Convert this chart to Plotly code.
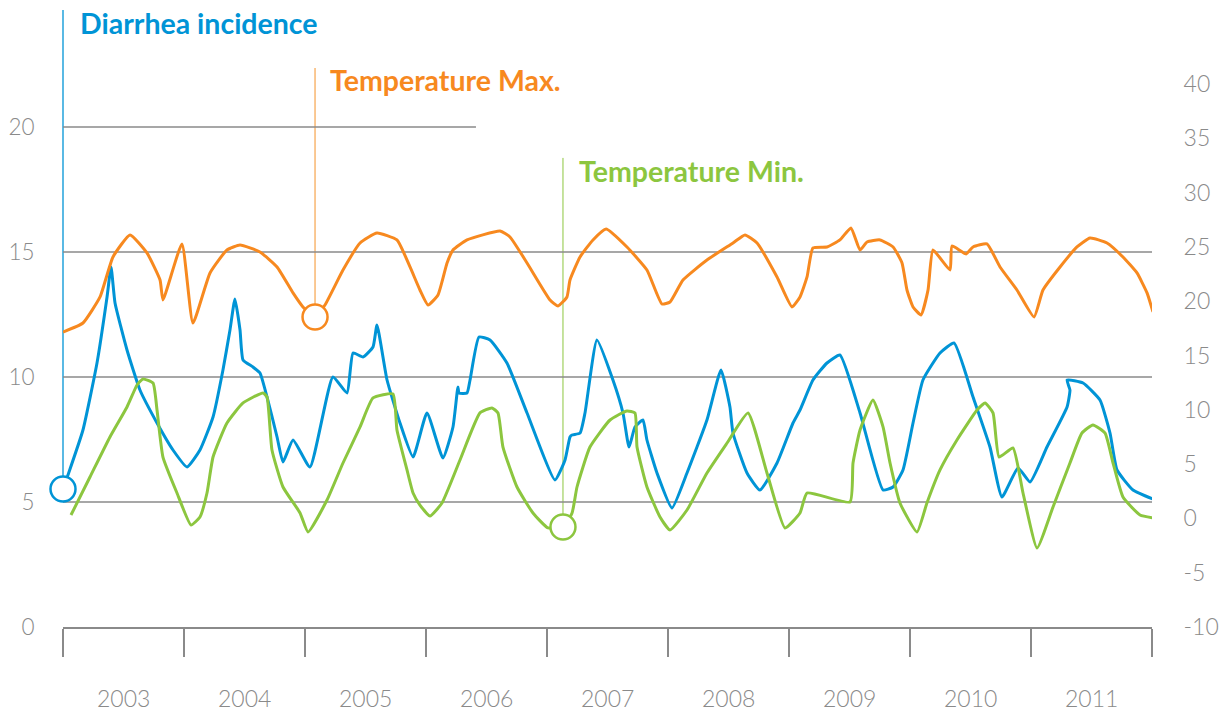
import plotly.graph_objects as go

# ---------------- data ----------------
diarrhea_x = [2003.000, 2003.041, 2003.165, 2003.281, 2003.364, 2003.397, 2003.430, 2003.529, 2003.636,
              2003.777, 2003.909, 2004.025, 2004.132, 2004.240, 2004.322, 2004.380, 2004.421, 2004.463,
              2004.488, 2004.570, 2004.628, 2004.686, 2004.769, 2004.818, 2004.901, 2005.041, 2005.231,
              2005.347, 2005.397, 2005.479, 2005.562, 2005.595, 2005.678, 2005.785, 2005.893, 2006.008,
              2006.140, 2006.223, 2006.264, 2006.273, 2006.339, 2006.364, 2006.438, 2006.529, 2006.669,
              2006.835, 2007.066, 2007.149, 2007.190, 2007.207, 2007.273, 2007.314, 2007.413, 2007.545,
              2007.628, 2007.678, 2007.727, 2007.793, 2007.826, 2007.909, 2008.033, 2008.157, 2008.322,
              2008.438, 2008.512, 2008.537, 2008.653, 2008.760, 2008.901, 2009.033, 2009.091, 2009.198,
              2009.314, 2009.421, 2009.587, 2009.777, 2009.860, 2009.942, 2010.025, 2010.107, 2010.248,
              2010.364, 2010.521, 2010.661, 2010.760, 2010.893, 2010.992, 2011.132, 2011.298, 2011.322,
              2011.298, 2011.430, 2011.570, 2011.653, 2011.711, 2011.843, 2012.008]
diarrhea_y = [5.52, 6.08, 7.88, 10.56, 13.2, 14.4, 12.96, 11.08, 9.48,
              8.16, 7.08, 6.4, 7.08, 8.4, 10.28, 11.88, 13.12, 11.88,
              10.68, 10.4, 10.16, 9.2, 7.6, 6.6, 7.48, 6.4, 10.0,
              9.36, 10.96, 10.8, 11.2, 12.08, 9.88, 8.16, 6.8, 8.56,
              6.76, 8.0, 9.6, 9.36, 9.36, 9.88, 11.6, 11.48, 10.56,
              8.56, 5.88, 6.68, 7.6, 7.68, 7.76, 8.56, 11.48, 9.88,
              8.56, 7.2, 8.0, 8.28, 7.48, 6.16, 4.76, 6.16, 8.28,
              10.28, 8.8, 7.76, 6.16, 5.48, 6.56, 8.16, 8.68, 9.88,
              10.56, 10.88, 8.56, 5.48, 5.6, 6.28, 8.16, 9.88, 10.96,
              11.36, 9.2, 7.2, 5.2, 6.36, 5.8, 7.2, 8.8, 9.48,
              9.88, 9.76, 9.08, 7.76, 6.28, 5.48, 5.12]

tmax_x = [2003.000, 2003.165, 2003.306, 2003.413, 2003.554, 2003.694, 2003.802, 2003.826, 2003.983,
          2004.074, 2004.215, 2004.355, 2004.463, 2004.628, 2004.769, 2004.901, 2004.983, 2005.083,
          2005.165, 2005.314, 2005.455, 2005.595, 2005.760, 2005.868, 2005.950, 2006.017, 2006.099,
          2006.174, 2006.223, 2006.339, 2006.612, 2006.694, 2006.835, 2007.025, 2007.091, 2007.165,
          2007.190, 2007.273, 2007.380, 2007.488, 2007.661, 2007.826, 2007.950, 2008.017, 2008.124,
          2008.322, 2008.537, 2008.636, 2008.736, 2008.901, 2009.025, 2009.091, 2009.149, 2009.198,
          2009.314, 2009.421, 2009.512, 2009.587, 2009.645, 2009.752, 2009.860, 2009.934, 2009.975,
          2010.025, 2010.091, 2010.149, 2010.190, 2010.331, 2010.347, 2010.463, 2010.521, 2010.636,
          2010.744, 2010.884, 2011.025, 2011.099, 2011.240, 2011.380, 2011.488, 2011.628, 2011.760,
          2011.876, 2011.959, 2012.008]
tmax_y = [17.16, 17.99, 20.39, 24.07, 26.10, 24.44, 21.95, 20.11, 25.27,
          17.99, 22.60, 24.71, 25.17, 24.53, 23.15, 20.76, 19.47, 18.55,
          19.65, 22.87, 25.36, 26.28, 25.64, 23.15, 21.03, 19.65, 20.57,
          23.52, 24.71, 25.64, 26.46, 25.91, 23.52, 20.11, 19.56, 20.39,
          21.95, 24.07, 25.64, 26.65, 24.99, 22.87, 19.74, 19.93, 21.95,
          23.79, 25.36, 26.10, 25.36, 22.23, 19.47, 20.39, 22.23, 24.90,
          24.99, 25.64, 26.74, 24.71, 25.45, 25.64, 24.99, 23.52, 21.03,
          19.47, 18.73, 21.03, 24.71, 22.87, 25.08, 24.35, 24.99, 25.27,
          23.15, 21.03, 18.55, 21.03, 23.15, 24.99, 25.82, 25.36, 24.07,
          22.60, 20.76, 19.01]

tmin_x = [2003.066, 2003.223, 2003.388, 2003.529, 2003.612, 2003.661, 2003.744, 2003.777, 2003.826,
          2003.942, 2004.058, 2004.132, 2004.190, 2004.240, 2004.355, 2004.488, 2004.653, 2004.686,
          2004.727, 2004.818, 2004.959, 2005.025, 2005.182, 2005.314, 2005.455, 2005.562, 2005.727,
          2005.760, 2005.843, 2005.893, 2005.950, 2006.033, 2006.132, 2006.281, 2006.446, 2006.545,
          2006.595, 2006.636, 2006.752, 2006.884, 2007.008, 2007.132, 2007.207, 2007.248, 2007.355,
          2007.521, 2007.661, 2007.727, 2007.744, 2007.826, 2007.934, 2008.017, 2008.157, 2008.322,
          2008.488, 2008.661, 2008.818, 2008.967, 2009.091, 2009.149, 2009.504, 2009.529, 2009.587,
          2009.694, 2009.777, 2009.835, 2009.917, 2010.058, 2010.140, 2010.248, 2010.388, 2010.554,
          2010.620, 2010.686, 2010.736, 2010.851, 2010.934, 2011.050, 2011.182, 2011.322, 2011.421,
          2011.512, 2011.612, 2011.678, 2011.760, 2011.901, 2012.008]
tmin_y = [0.31, 3.81, 7.50, 10.26, 12.28, 12.84, 12.47, 9.98, 5.65,
          2.34, -0.61, 0.13, 2.34, 5.65, 8.78, 10.63, 11.55, 11.18,
          6.30, 2.89, 0.50, -1.25, 1.69, 5.10, 8.42, 11.09, 11.46,
          8.14, 4.46, 2.34, 1.23, 0.22, 1.42, 5.38, 9.71, 10.17,
          9.71, 6.57, 2.89, 0.50, -0.88, -0.79, 0.50, 2.89, 6.57,
          9.06, 9.89, 9.71, 6.57, 2.89, 0.13, -1.07, 0.77, 4.18,
          6.94, 9.71, 4.18, -0.88, 0.50, 2.34, 1.51, 5.10, 8.14,
          10.90, 8.42, 5.10, 1.42, -1.25, 1.42, 4.46, 7.22, 9.98,
          10.63, 9.71, 5.65, 6.48, 2.34, -2.73, 1.05, 5.10, 7.86,
          8.60, 7.86, 5.10, 1.97, 0.31, 0.04]

years = [2003, 2004, 2005, 2006, 2007, 2008, 2009, 2010, 2011]
left_ticks = [0, 5, 10, 15, 20]
right_ticks = [-10, -5, 0, 5, 10, 15, 20, 25, 30, 35, 40]
right_tick_text = ["-10", "-5", "0", "5", "10", "15", "20", "25", "30", "35", "40"]

# highlighted points (label anchors)
diarrhea_mark = (2003.000, 5.52)
tmax_mark = (2005.083, 18.55)
tmin_mark = (2007.132, -0.79)

BLUE = "#0094d6"
ORANGE = "#f7891f"
ORANGE_LIGHT = "#f9bb7a"
GREEN = "#8cc63f"
GREY = "#8a8a8a"
FONT = "Lato"

LEFT_MAX = 24.68
RIGHT_MIN, RIGHT_MAX = -10, 46.81
SMOOTH = 0.45

fig = go.Figure()

line_kw = dict(mode="lines", line_shape="spline", hoverinfo="skip", showlegend=False)
fig.add_trace(go.Scatter(x=tmax_x, y=tmax_y, yaxis="y2",
                         line=dict(color=ORANGE, width=3, smoothing=SMOOTH), **line_kw))
fig.add_trace(go.Scatter(x=diarrhea_x, y=diarrhea_y, yaxis="y",
                         line=dict(color=BLUE, width=3, smoothing=SMOOTH), **line_kw))
fig.add_trace(go.Scatter(x=tmin_x, y=tmin_y, yaxis="y2",
                         line=dict(color=GREEN, width=3, smoothing=SMOOTH), **line_kw))

# vertical label lines
shapes = []
# the diarrhea marker sits on the left edge of the plot; paper x avoids clipping half the line
shapes.append(dict(type="line", xref="paper", yref="y", x0=0, x1=0,
                   y0=diarrhea_mark[1], y1=LEFT_MAX, line=dict(color=BLUE, width=1.3), layer="below"))
shapes.append(dict(type="line", xref="x", yref="y2", x0=tmax_mark[0], x1=tmax_mark[0],
                   y0=tmax_mark[1], y1=41.47, line=dict(color=ORANGE_LIGHT, width=1.6), layer="below"))
shapes.append(dict(type="line", xref="x", yref="y2", x0=tmin_mark[0], x1=tmin_mark[0],
                   y0=tmin_mark[1], y1=33.19, line=dict(color=GREEN, width=1), layer="below"))
# gridlines
for v in [5, 10, 15]:
    shapes.append(dict(type="line", xref="x", yref="y", x0=2003, x1=2012, y0=v, y1=v,
                       line=dict(color=GREY, width=1.5), layer="below"))
shapes.append(dict(type="line", xref="x", yref="y", x0=2003, x1=2006.413, y0=20, y1=20,
                   line=dict(color=GREY, width=1.5), layer="below"))

# marker circles
fig.add_trace(go.Scatter(x=[diarrhea_mark[0]], y=[diarrhea_mark[1]], yaxis="y", mode="markers",
                         marker=dict(size=25, color="white", line=dict(color=BLUE, width=2.5)),
                         cliponaxis=False, hoverinfo="skip", showlegend=False))
fig.add_trace(go.Scatter(x=[tmax_mark[0]], y=[tmax_mark[1]], yaxis="y2", mode="markers",
                         marker=dict(size=25, color="white", line=dict(color=ORANGE, width=2.5)),
                         cliponaxis=False, hoverinfo="skip", showlegend=False))
fig.add_trace(go.Scatter(x=[tmin_mark[0]], y=[tmin_mark[1]], yaxis="y2", mode="markers",
                         marker=dict(size=25, color="white", line=dict(color=GREEN, width=2.5)),
                         cliponaxis=False, hoverinfo="skip", showlegend=False))

TITLE_SIZE = 28.5
annotations = [
    dict(text="<b>Diarrhea incidence</b>", x=2003.124, y=24.16, xref="x", yref="y",
         xanchor="left", yanchor="middle", showarrow=False,
         font=dict(family=FONT, size=TITLE_SIZE, color=BLUE)),
    dict(text="<b>Temperature Max.</b>", x=2005.19, y=40.37, xref="x", yref="y2",
         xanchor="left", yanchor="middle", showarrow=False,
         font=dict(family=FONT, size=TITLE_SIZE, color=ORANGE)),
    dict(text="<b>Temperature Min.</b>", x=2007.248, y=31.99, xref="x", yref="y2",
         xanchor="left", yanchor="middle", showarrow=False,
         font=dict(family=FONT, size=TITLE_SIZE, color=GREEN)),
]
for yr in years:
    annotations.append(dict(text=str(yr), x=yr + 0.5, y=-0.115, xref="x", yref="paper",
                            xanchor="center", yanchor="middle", showarrow=False,
                            font=dict(family=FONT, size=23, color=GREY, weight=300)))

fig.update_layout(
    width=1227, height=713,
    margin=dict(l=63, r=75, t=10, b=86),
    paper_bgcolor="white", plot_bgcolor="white",
    font=dict(family=FONT, color=GREY),
    hovermode=False,
    xaxis=dict(range=[2003, 2012], tickmode="array", tickvals=years + [2012], automargin=False,
               showticklabels=False, ticks="outside", ticklen=28, tickwidth=1.5, tickcolor=GREY,
               showline=True, linecolor=GREY, linewidth=1.5, showgrid=False, zeroline=False),
    yaxis=dict(range=[0, LEFT_MAX], tickmode="array", tickvals=left_ticks, automargin=False,
               ticks="outside", ticklen=23, tickcolor="rgba(0,0,0,0)",
               tickfont=dict(family=FONT, size=22.5, color=GREY, weight=300),
               showgrid=False, zeroline=False, showline=False),
    yaxis2=dict(range=[RIGHT_MIN, RIGHT_MAX], overlaying="y", side="right", tickmode="array",
                tickvals=right_ticks, ticktext=right_tick_text, automargin=False,
                ticks="outside", ticklen=26, tickcolor="rgba(0,0,0,0)",
                tickfont=dict(family=FONT, size=23, color=GREY, weight=300),
                showgrid=False, zeroline=False, showline=False),
    shapes=shapes,
    annotations=annotations,
)

# remove the browser's default 8px body margin so the figure fills the window exactly
fig.write_html("out.html", config={"displayModeBar": False},
               post_script="document.body.style.margin='0px';document.body.style.overflow='hidden';")
